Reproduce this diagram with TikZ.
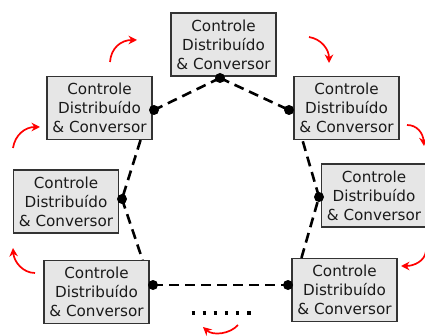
\documentclass[tikz,border=0pt]{standalone}
\usepackage{fontspec}
\setmainfont{DejaVu Sans}
\usetikzlibrary{arrows.meta,calc}
\definecolor{boxfill}{HTML}{E6E6E6}
\definecolor{boxline}{HTML}{333333}
\definecolor{txt}{HTML}{1A1A1A}
\begin{document}
\begin{tikzpicture}[x=1pt,y=-1pt,
  unit/.style={draw=boxline,line width=1.1pt,fill=boxfill,minimum width=105pt,
    minimum height=63pt,inner sep=0pt,align=center,text=txt,
    font=\fontsize{15.2}{19}\selectfont},
  link/.style={line width=2.6pt,dash pattern=on 10pt off 6pt},
  port/.style={circle,fill=black,minimum size=10pt,inner sep=0pt},
  flow/.style={red,line width=1.7pt,-{Stealth[length=8.5pt,width=8.5pt]}}]
\useasboundingbox (0,0) rectangle (425,336);

% converter units
\node[unit] (T)  at (223.5,44.5) {Controle\\Distribuído\\\& Conversor};
\node[unit] (UL) at (99.5,108)   {Controle\\Distribuído\\\& Conversor};
\node[unit] (UR) at (346.5,108)  {Controle\\Distribuído\\\& Conversor};
\node[unit] (LM) at (66,201.5)   {Controle\\Distribuído\\\& Conversor};
\node[unit] (RM) at (374,195.5)  {Controle\\Distribuído\\\& Conversor};
\node[unit] (BL) at (96.5,292)   {Controle\\Distribuído\\\& Conversor};
\node[unit] (BR) at (344.5,290)  {Controle\\Distribuído\\\& Conversor};

% communication ports
\node[port] (Tp)  at (220,78)  {};
\node[port] (ULp) at (154,110) {};
\node[port] (URp) at (289,110) {};
\node[port] (LMp) at (122,199) {};
\node[port] (RMp) at (319,197) {};
\node[port] (BLp) at (153,285) {};
\node[port] (BRp) at (288,285) {};

% communication links
\coordinate (ULb) at ($(UL.south east)+(-12,0)$);
\coordinate (BLt) at ($(BL.north east)+(-7,0)$);
\coordinate (BRt) at ($(BR.north west)+(10,0)$);
\coordinate (URb) at ($(UR.south west)+(9,0)$);
\draw[link] (Tp.center) -- (ULp.center);
\draw[link] (Tp.center) -- (URp.center);
\draw[link] (ULb) -- (LMp.center);
\draw[link] (LMp.center) -- (BLt);
\draw[link] (BLp.center) -- (BRp.center);
\draw[link] (BRt) -- (RMp.center);
\draw[link] (RMp.center) -- (URb);

% further units
\coordinate (d1) at (191.5,313);
\coordinate (d2) at (252,313);
\draw[line width=3.5pt,dash pattern=on 3.5pt off 7.6pt] (d1) -- (d2);

% circulation arrows
\coordinate (a1s) at (110,62);  \coordinate (a1e) at (137,40);
\coordinate (a2s) at (13,148);  \coordinate (a2e) at (40,127);
\coordinate (a3s) at (309,37);  \coordinate (a3e) at (329,63);
\coordinate (a4s) at (407,125); \coordinate (a4e) at (424,146);
\coordinate (a5s) at (426,251); \coordinate (a5e) at (401,266);
\coordinate (a6s) at (35,273);  \coordinate (a6e) at (13,248);
\coordinate (a7s) at (238,325); \coordinate (a7e) at (203,327);
\draw[flow] (a1s) .. controls (111,48) and (121,40) .. (a1e);
\draw[flow] (a2s) .. controls (15,135) and (25,127) .. (a2e);
\draw[flow] (a3s) .. controls (321,39) and (329,49) .. (a3e);
\draw[flow] (a4s) .. controls (417,125) and (423,133) .. (a4e);
\draw[flow] (a5s) .. controls (425,261) and (414,266) .. (a5e);
\draw[flow] (a6s) .. controls (23,273) and (14,262) .. (a6e);
\draw[flow] (a7s) .. controls (230,334) and (213,336) .. (a7e);
\end{tikzpicture}
\end{document}
